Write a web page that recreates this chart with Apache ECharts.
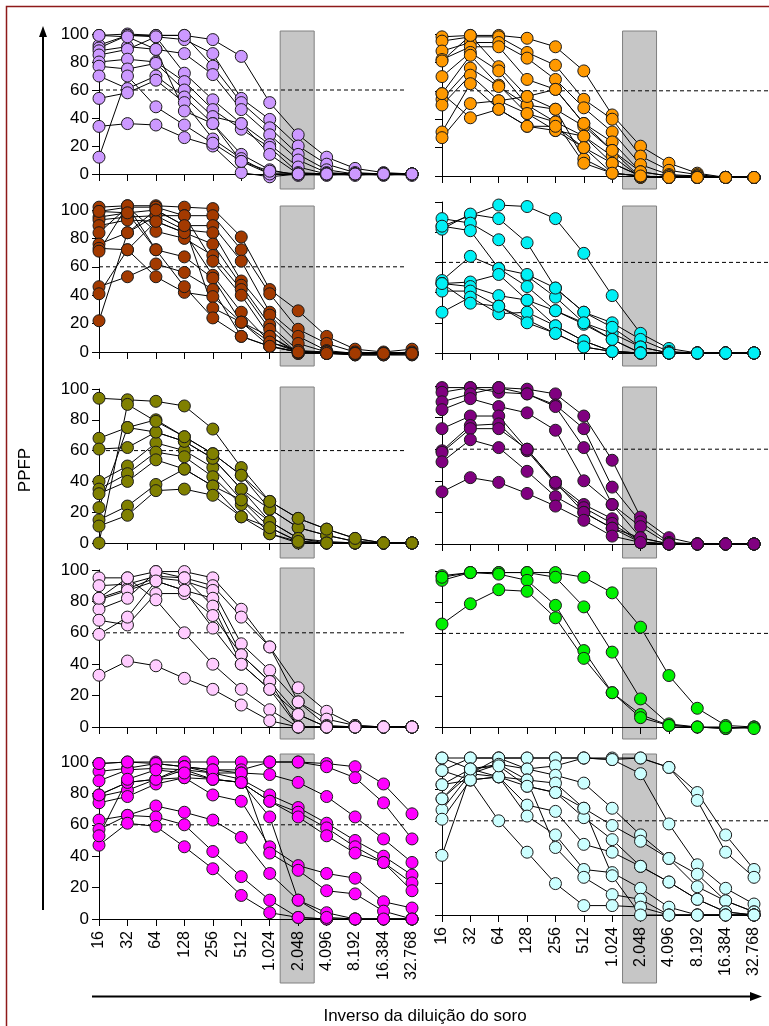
<!DOCTYPE html>
<html><head><meta charset="utf-8">
<script src="https://cdn.jsdelivr.net/npm/echarts@6/dist/echarts.min.js"></script>
<style>html,body{margin:0;padding:0;background:#fff}#c{width:769px;height:1026px}</style>
</head><body><div id="c"></div>
<script>
const categories = ['16','32','64','128','256','512','1.024','2.048','4.096','8.192','16.384','32.768'];
const yTicks = [0, 20, 40, 60, 80, 100];
const cutoff = 60;
const xTitle = 'Inverso da diluição do soro';
const yTitle = 'PPFP';

const lavender = [
 [99,100,99,99,96,84,51,28,12,4,1,0],
 [92,99,98,96,86,54,39,20,7,1,0,-1],
 [90,99,99,99,77,51,33,14,3,0,0,0],
 [88,91,89,86,71,46,28,10,1,0,-1,0],
 [85,89,98,72,53,36,21,5,0,0,0,0],
 [80,82,80,66,46,32,19,1,0,-1,0,0],
 [77,75,79,60,41,36,14,0,-1,0,0,0],
 [70,61,70,55,36,14,3,-1,0,0,0,0],
 [54,58,67,51,25,11,0,0,0,0,0,0],
 [34,36,35,26,20,1,-2,0,0,0,0,0],
 [12,70,48,35,22,9,0,0,0,0,0,0],
 [99,98,89,45,36,9,2,0,0,0,0,0]
];
const orange = [
 [98,99,99,97,91,74,43,21,9,2,-1,-1],
 [95,98,98,87,78,54,40,14,4,1,-1,-1],
 [88,94,94,83,68,48,31,8,1,0,-1,-1],
 [82,91,91,68,61,37,24,3,0,0,-1,-1],
 [81,99,77,56,47,35,18,-1,0,0,-1,-1],
 [70,87,74,50,38,28,14,-1,-1,-1,-1,-1],
 [58,85,64,44,32,20,9,0,-1,-1,-1,-1],
 [54,76,63,50,47,12,2,0,-1,-1,-1,-1],
 [50,71,53,44,38,9,2,0,-1,-1,-1,-1],
 [31,65,47,35,32,28,9,0,-1,-1,-1,-1],
 [27,51,53,56,61,37,18,3,0,-1,-1,-1],
 [58,41,47,35,35,20,2,0,-1,-1,-1,-1]
];
const brown = [
 [102,103,103,102,101,81,44,29,11,2,0,2],
 [99,102,102,96,96,72,41,16,6,0,-1,0],
 [95,98,100,89,89,64,28,11,1,-1,-1,-1],
 [93,95,96,86,84,50,26,6,0,-1,-1,-1],
 [89,93,92,84,76,47,19,1,-1,-1,-1,-1],
 [84,102,85,80,68,44,16,-1,-1,-2,-2,-1],
 [76,84,96,96,64,40,11,-1,0,-2,-2,-2],
 [73,72,92,84,54,28,7,0,-1,-2,-2,-2],
 [71,103,72,67,52,21,4,0,-1,-1,-1,-1],
 [46,53,62,56,44,11,4,0,0,-1,-1,-1],
 [41,72,53,42,39,21,11,0,-1,-1,-1,-1],
 [22,84,100,89,31,21,7,1,0,-1,-1,-1],
 [99,98,72,46,24,11,4,0,-1,-1,-1,-1]
];
const cyan = [
 [84,91,98,97,89,66,38,13,3,0,0,0],
 [82,92,89,73,43,27,20,9,1,0,0,0],
 [89,86,75,51,37,20,13,4,0,0,0,0],
 [84,81,56,44,28,19,9,0,0,0,0,0],
 [48,64,56,52,43,27,17,4,0,0,0,0],
 [46,47,52,35,28,20,9,0,0,0,0,0],
 [46,44,38,35,18,8,1,0,0,0,0,0],
 [41,41,31,22,13,4,1,0,0,0,0,0],
 [27,37,26,27,18,8,1,0,0,0,0,0],
 [46,33,31,20,13,4,1,0,0,0,0,0]
];
const olive = [
 [94,93,92,89,74,49,27,16,9,3,0,0],
 [68,75,80,69,58,44,22,10,5,1,0,0],
 [61,62,72,66,55,35,14,3,1,0,0,0],
 [40,50,65,60,49,28,10,1,0,0,0,0],
 [35,45,59,56,43,25,6,1,0,0,0,0],
 [32,40,54,48,37,17,6,0,0,0,0,0],
 [23,75,72,66,55,35,22,10,5,1,0,0],
 [15,24,38,48,37,28,14,3,0,0,0,0],
 [11,18,34,35,31,17,10,1,0,0,0,0],
 [0,90,79,69,58,44,27,16,9,3,0,0]
];
const purple = [
 [99,99,99,98,95,81,53,17,4,0,0,0],
 [96,99,96,95,88,73,36,14,1,0,0,0],
 [90,95,99,95,87,61,25,11,0,0,0,0],
 [85,92,87,83,72,40,25,4,0,0,0,0],
 [73,81,81,60,39,25,16,1,0,0,0,0],
 [59,75,76,59,38,23,13,1,0,0,0,0],
 [58,73,73,60,39,20,10,1,0,0,0,0],
 [52,66,61,46,30,20,10,4,0,0,0,0],
 [33,42,39,32,24,15,5,1,0,0,0,0]
];
const pink = [
 [95,95,99,99,95,75,51,25,10,1,0,0],
 [90,91,96,95,90,70,51,16,5,1,0,0],
 [82,88,95,93,87,53,36,16,1,0,0,0],
 [81,87,93,87,82,46,29,8,0,0,0,0],
 [75,82,99,95,77,40,24,8,0,0,0,0],
 [68,65,85,85,71,46,29,0,0,0,0,0],
 [59,70,93,87,63,40,24,0,0,0,0,0],
 [82,95,81,60,40,24,11,0,0,0,0,0],
 [33,42,39,31,24,14,4,0,0,0,0,0]
];
const green = [
 [97,99,99,99,99,96,86,64,33,12,1,0],
 [94,99,99,99,96,77,48,18,2,0,-1,0],
 [96,99,98,94,78,49,22,8,1,0,-1,0],
 [66,79,88,87,70,44,22,6,1,0,0,-1]
];
const magenta = [
 [99,100,100,100,100,100,100,100,99,97,86,67],
 [94,96,99,97,95,95,100,100,97,90,74,51],
 [88,95,96,95,93,93,92,87,78,65,51,36],
 [79,87,89,97,93,89,79,71,61,50,40,28],
 [78,82,89,95,89,87,75,68,58,46,36,23],
 [74,78,86,90,89,87,75,65,53,42,36,18],
 [63,66,72,68,63,52,29,12,4,0,0,0],
 [57,66,65,60,43,27,12,1,0,0,0,0],
 [47,61,59,46,32,15,4,1,0,0,0,0],
 [79,87,89,90,79,75,46,34,29,26,11,7],
 [99,100,99,97,95,93,42,31,18,16,5,0],
 [53,89,95,93,89,87,65,12,1,0,0,0]
];
const lightCyan = [
 [100,100,100,100,100,100,100,100,94,78,51,29],
 [92,100,100,100,100,100,99,100,94,73,40,24],
 [83,93,96,93,95,100,99,90,58,32,17,7],
 [74,90,100,93,89,84,68,51,36,26,9,2],
 [67,90,96,86,84,68,57,47,36,18,9,2],
 [61,86,88,82,78,62,48,31,21,10,2,0],
 [38,90,88,70,66,45,40,31,21,10,2,0],
 [100,93,88,63,51,29,27,17,5,0,0,0],
 [92,86,88,86,43,24,13,10,0,0,0,0],
 [83,86,60,40,20,6,6,5,0,0,0,0],
 [74,93,95,82,78,68,25,0,0,0,0,0]
];

const panels = [
 {data: lavender, color: '#CC99FF'},
 {data: orange, color: '#FF9900'},
 {data: brown, color: '#A33A00'},
 {data: cyan, color: '#00F0F5'},
 {data: olive, color: '#808000'},
 {data: purple, color: '#800080'},
 {data: pink, color: '#FFCCFF'},
 {data: green, color: '#00F000'},
 {data: magenta, color: '#FF00FF'},
 {data: lightCyan, color: '#CCFFFF'}
];

// layout (pixels): y of 100 and y of 0 per row, left/right
const rowGeom = [
 {L:[34,174], R:[34,176], box:[31,189]},
 {L:[210,352], R:[202,353], box:[206,366]},
 {L:[389,543], R:[386,544], box:[387,558]},
 {L:[570,727], R:[571,727], box:[568,739]},
 {L:[762,919], R:[758,915], box:[754,983]}
];
const FONT = '"Liberation Sans", Arial, sans-serif';

const chart = echarts.init(document.getElementById('c'), null, {renderer: 'canvas'});
const grid = [], xAxis = [], yAxis = [], series = [];
panels.forEach((p, i) => {
  const row = Math.floor(i / 2), col = i % 2;
  const g = col === 0 ? rowGeom[row].L : rowGeom[row].R;
  grid.push({left: col === 0 ? 99 : 442, width: col === 0 ? 313 : 312, top: g[0], height: g[1] - g[0]});
  xAxis.push({
    type: 'category', data: categories, gridIndex: i, boundaryGap: false, z: 3,
    axisLine: {lineStyle: {color: '#000', width: 1}},
    axisTick: {show: true, length: 7, interval: 0, lineStyle: {color: '#000'}},
    axisLabel: {show: row === 4, interval: 0, rotate: 90, fontSize: 16, color: '#000', margin: 12, fontFamily: FONT},
    splitLine: {show: false}
  });
  yAxis.push({
    type: 'value', gridIndex: i, min: yTicks[0], max: yTicks[yTicks.length - 1], interval: 20, z: 3,
    axisLine: {show: true, lineStyle: {color: '#000', width: 1}},
    axisTick: {show: true, length: 7, lineStyle: {color: '#000'}},
    axisLabel: {show: col === 0, fontSize: 17, color: '#000', margin: 10, fontFamily: FONT},
    splitLine: {show: false}
  });
  p.data.forEach(vals => {
    series.push({
      type: 'line', xAxisIndex: i, yAxisIndex: i, data: vals, z: 5,
      symbol: 'circle', symbolSize: 12, showSymbol: true, showAllSymbol: true, clip: false,
      itemStyle: {color: p.color, borderColor: '#1a1a1a', borderWidth: 1},
      lineStyle: {color: '#000', width: 1},
      emphasis: {disabled: true}, silent: true
    });
  });
});

chart.setOption({animation: false, grid, xAxis, yAxis, series});

const graphic = [];
panels.forEach((p, i) => {
  const row = Math.floor(i / 2), col = i % 2;
  const c7 = chart.convertToPixel({gridIndex: i}, [7, cutoff]);
  const x0 = chart.convertToPixel({gridIndex: i}, [0, cutoff]);
  const bx = rowGeom[row].box;
  graphic.push({type: 'rect', z: 1, shape: {x: c7[0] - 18, y: bx[0], width: 34, height: bx[1] - bx[0]},
    style: {fill: '#C6C6C6', stroke: '#808080', lineWidth: 1}});
  graphic.push({type: 'line', z: 2, shape: {x1: x0[0], y1: c7[1], x2: col === 0 ? 405 : 768, y2: c7[1]},
    style: {stroke: '#000', lineWidth: 1, lineDash: [4, 3]}});
});
// big axis arrows
graphic.push({type: 'line', z: 2, shape: {x1: 43, y1: 34, x2: 43, y2: 910}, style: {stroke: '#000', lineWidth: 2}});
graphic.push({type: 'polygon', z: 2, shape: {points: [[43, 26], [39, 37], [47, 37]]}, style: {fill: '#000'}});
graphic.push({type: 'line', z: 2, shape: {x1: 92, y1: 996.5, x2: 752, y2: 996.5}, style: {stroke: '#000', lineWidth: 2}});
graphic.push({type: 'polygon', z: 2, shape: {points: [[762, 996.5], [750, 992], [750, 1001]]}, style: {fill: '#000'}});
graphic.push({type: 'text', z: 2, x: 25, y: 470, rotation: Math.PI / 2,
  style: {text: yTitle, font: '17px ' + FONT, fill: '#000', textAlign: 'center', textVerticalAlign: 'middle'}});
graphic.push({type: 'text', z: 2, x: 425, y: 1016,
  style: {text: xTitle, font: '17px ' + FONT, fill: '#000', textAlign: 'center', textVerticalAlign: 'middle'}});
// frame
graphic.push({type: 'rect', z: 2, shape: {x: 6.5, y: 6.5, width: 900, height: 1200},
  style: {fill: 'none', stroke: '#8E1A1A', lineWidth: 1.5}});
chart.setOption({graphic});
</script></body></html>
